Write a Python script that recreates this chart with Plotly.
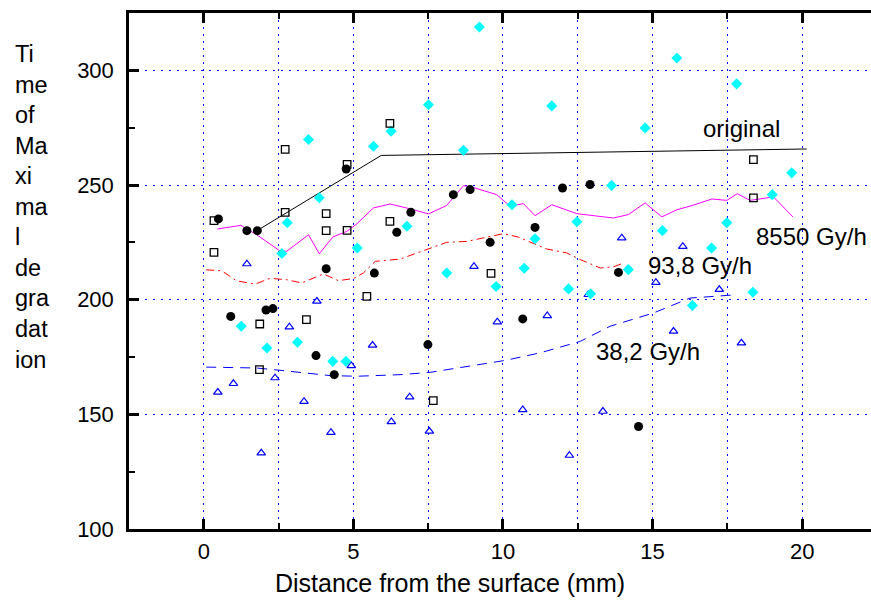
import plotly.graph_objects as go

# ---------------- data ----------------
circle_x = [0.49, 1.44, 1.79, 4.76, 4.09, 5.70, 6.45, 6.92, 8.34, 8.90, 11.99, 12.91,
            11.07, 9.57, 13.86, 0.90, 2.08, 2.31, 3.75, 4.36, 7.49, 10.66, 14.53]
circle_y = [235.2, 230.1, 230.1, 257.0, 213.5, 211.6, 229.4, 238.1, 245.8, 248.0, 248.7, 250.2,
            231.5, 225.0, 211.9, 192.7, 195.5, 196.1, 175.6, 167.3, 180.4, 191.6, 144.7]

square_x = [0.34, 0.34, 2.72, 2.72, 4.09, 4.09, 4.79, 4.79, 6.22, 6.22, 5.45, 3.43,
            1.87, 1.86, 9.60, 7.67, 18.37, 18.37]
square_y = [234.5, 220.6, 238.1, 265.5, 237.5, 230.1, 230.2, 259.0, 276.9, 234.1, 201.4, 191.3,
            189.4, 169.5, 211.5, 156.0, 244.4, 261.1]

diamond_x = [3.50, 5.67, 6.26, 9.21, 7.51, 11.63, 8.68, 13.63, 14.75, 15.81, 17.81, 19.65,
             3.86, 2.79, 2.61, 5.13, 6.79, 10.30, 12.47, 11.07, 8.12, 10.71, 9.77, 12.19,
             12.93, 14.19, 15.33, 16.97, 17.48, 19.00, 18.35, 16.33, 1.25, 3.13, 2.11, 4.31, 4.75]
diamond_y = [269.8, 266.9, 273.4, 318.9, 285.0, 284.5, 265.1, 249.8, 274.9, 305.4, 294.1, 255.3,
             244.4, 233.5, 220.1, 222.5, 232.0, 241.4, 234.0, 226.6, 211.6, 213.7, 205.7, 204.7,
             202.6, 213.1, 230.1, 222.5, 233.5, 245.8, 203.2, 197.5, 188.4, 181.4, 178.9, 173.1, 173.1]

triangle_x = [1.44, 3.78, 5.64, 2.86, 9.03, 12.85, 13.97, 9.81, 11.48, 16.01, 15.11, 17.23,
              15.70, 17.97, 4.93, 2.38, 0.99, 0.47, 3.35, 6.88, 6.27, 4.25, 1.92, 10.66,
              13.34, 7.54, 12.22]
triangle_y = [215.6, 199.3, 180.1, 188.1, 214.5, 202.2, 226.9, 190.3, 193.0, 223.2, 207.5, 204.4,
              186.2, 181.1, 171.2, 165.9, 163.4, 159.6, 155.6, 157.6, 146.8, 142.1, 133.1, 152.0,
              151.3, 142.6, 132.1]

original_x = [1.83, 5.93, 20.15]
original_y = [230.5, 262.9, 265.7]

g8550_x = [0.45, 1.24, 1.77, 2.53, 2.77, 3.50, 3.86, 4.31, 4.78, 5.11, 5.67, 6.23, 6.90, 7.51,
           8.12, 8.68, 8.96, 9.79, 10.24, 10.68, 11.07, 11.63, 12.47, 13.14, 13.69, 14.19,
           14.75, 15.31, 15.81, 16.31, 16.98, 17.48, 17.83, 18.26, 19.04, 19.69]
g8550_y = [230.8, 232.4, 228.3, 221.4, 221.1, 228.3, 220.0, 227.3, 229.8, 233.0, 240.0, 241.7,
           239.6, 237.4, 241.1, 249.7, 249.1, 245.8, 240.7, 241.9, 236.6, 241.4, 237.5, 236.6,
           235.6, 237.1, 242.2, 236.1, 239.2, 241.0, 243.9, 243.3, 246.2, 243.3, 244.8, 236.1]

g938_x = [0.08, 0.60, 1.10, 1.71, 2.22, 2.77, 3.27, 4.00, 4.50, 5.00, 5.33, 5.73, 6.56, 7.56,
          8.12, 8.79, 9.35, 10.02, 10.51, 11.46, 12.13, 12.58, 13.25, 13.69, 14.03]
g938_y = [213.0, 212.6, 208.2, 206.8, 209.3, 208.7, 207.3, 211.2, 208.3, 209.2, 211.6, 216.7,
          217.7, 222.5, 225.0, 225.4, 226.9, 228.8, 227.3, 222.1, 220.4, 217.5, 213.8, 214.3, 216.0]

g382_x = [0.08, 1.77, 2.55, 3.33, 4.22, 5.11, 5.78, 6.56, 7.56, 8.79, 10.07, 11.24, 12.58,
          13.58, 15.03, 16.25, 17.76]
g382_y = [170.6, 170.2, 169.2, 168.0, 166.9, 166.6, 166.9, 167.3, 168.3, 170.9, 173.5, 176.8,
          181.8, 188.4, 194.2, 200.7, 202.1]

x_ticks = [0, 5, 10, 15, 20]
x_minor = [2.5, 7.5, 12.5, 17.5]
y_ticks = [100, 150, 200, 250, 300]
y_minor = [125, 175, 225, 275]

labels = ["original", "8550 Gy/h", "93,8 Gy/h", "38,2 Gy/h"]
label_x = [17.96, 20.32, 16.58, 14.84]
label_y = [274.6, 227.5, 214.8, 177.3]

FONT = "Liberation Sans, Arial, sans-serif"
GRID = "#0000ff"

fig = go.Figure()

fig.add_trace(go.Scatter(x=original_x, y=original_y, mode="lines",
                         line=dict(color="black", width=1)))
fig.add_trace(go.Scatter(x=g8550_x, y=g8550_y, mode="lines",
                         line=dict(color="#ff00ff", width=1)))
fig.add_trace(go.Scatter(x=g938_x, y=g938_y, mode="lines",
                         line=dict(color="#ff0000", width=1, dash="8px,4px,2px,4px")))
fig.add_trace(go.Scatter(x=g382_x, y=g382_y, mode="lines",
                         line=dict(color="#0000ff", width=1, dash="10px,7px")))

fig.add_trace(go.Scatter(x=triangle_x, y=triangle_y, mode="markers",
                         marker=dict(symbol="triangle-up-open", size=7.5, color="#0000ff",
                                     line=dict(width=1.2, color="#0000ff"))))
fig.add_trace(go.Scatter(x=diamond_x, y=diamond_y, mode="markers",
                         marker=dict(symbol="diamond", size=8.5, color="#00ffff",
                                     line=dict(width=0))))
fig.add_trace(go.Scatter(x=square_x, y=square_y, mode="markers",
                         marker=dict(symbol="square-open", size=7.5, color="black",
                                     line=dict(width=1.3, color="black"))))
fig.add_trace(go.Scatter(x=circle_x, y=circle_y, mode="markers",
                         marker=dict(symbol="circle", size=9, color="black",
                                     line=dict(width=0))))

for t, lx, ly in zip(labels, label_x, label_y):
    fig.add_annotation(x=lx, y=ly, xref="x", yref="y", text=t, showarrow=False,
                       font=dict(family=FONT, size=24, color="black"),
                       xanchor="center", yanchor="middle")

fig.add_annotation(xref="paper", yref="paper", x=0.433, y=-0.104,
                   text="Distance from the surface (mm)", showarrow=False,
                   font=dict(family=FONT, size=25, color="black"),
                   xanchor="center", yanchor="middle")
fig.add_annotation(xref="paper", yref="paper", x=-0.156, y=0.6236,
                   text="Ti<br>me<br>of<br>Ma<br>xi<br>ma<br>l<br>de<br>gra<br>dat<br>ion",
                   showarrow=False, align="left",
                   font=dict(family=FONT, size=23.5, color="black"),
                   xanchor="left", yanchor="middle")

fig.update_layout(
    width=871, height=601,
    margin=dict(l=129, r=0, t=13, b=72, autoexpand=False),
    paper_bgcolor="white", plot_bgcolor="white",
    showlegend=False,
    font=dict(family=FONT, size=22, color="black"),
    xaxis=dict(range=[-2.5, 22.3], tickvals=x_ticks, ticks="inside", ticklen=10, tickwidth=2.5,
               tickcolor="black", showline=True, linecolor="black", linewidth=2.5,
               mirror="ticks", showgrid=True, gridcolor=GRID, gridwidth=1, griddash="2px,5px",
               zeroline=False, tickfont=dict(family=FONT, size=22), ticklabelstandoff=1,
               minor=dict(tickvals=x_minor, ticks="inside", ticklen=6, tickwidth=2,
                          tickcolor="black", showgrid=True, gridcolor=GRID, gridwidth=1,
                          griddash="2px,5px")),
    yaxis=dict(range=[100, 325], tickvals=y_ticks, ticks="inside", ticklen=10, tickwidth=2.5,
               tickcolor="black", showline=True, linecolor="black", linewidth=2.5,
               mirror=False, showgrid=True, gridcolor=GRID, gridwidth=1, griddash="2px,6px",
               zeroline=False, tickfont=dict(family=FONT, size=22), ticklabelstandoff=8,
               minor=dict(tickvals=y_minor, ticks="inside", ticklen=6, tickwidth=2,
                          tickcolor="black", showgrid=False)),
)

fig.write_html("out.html")
